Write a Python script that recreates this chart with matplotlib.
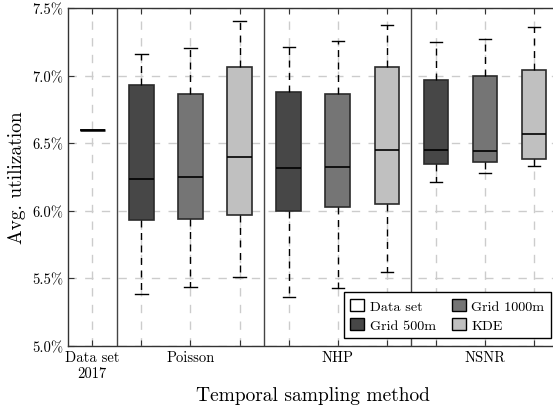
import matplotlib
matplotlib.use("Agg")
import matplotlib.pyplot as plt
from matplotlib.patches import Patch
from matplotlib.ticker import FuncFormatter

plt.rcParams['font.family'] = ['cmr10', 'DejaVu Serif']
plt.rcParams['mathtext.fontset'] = 'cm'
plt.rcParams['axes.formatter.use_mathtext'] = True

# Avg. utilization in percent
groups = ["Poisson", "NHP", "NSNR"]
series = ["Grid 500m", "Grid 1000m", "KDE"]
series_colors = ["#474747", "#757575", "#c0c0c0"]

dataset_value = 6.60

# (whislo, q1, median, q3, whishi) per group, per series
grid500 = [(5.386, 5.930, 6.233, 6.930, 7.161),
           (5.364, 5.996, 6.319, 6.880, 7.213),
           (6.216, 6.349, 6.448, 6.967, 7.253)]
grid1000 = [(5.436, 5.939, 6.248, 6.868, 7.206),
            (5.430, 6.030, 6.327, 6.865, 7.260),
            (6.278, 6.364, 6.443, 6.996, 7.273)]
kde = [(5.510, 5.969, 6.399, 7.068, 7.406),
       (5.544, 6.048, 6.453, 7.063, 7.379),
       (6.330, 6.384, 6.569, 7.041, 7.359)]

tick_labels = ["Data set\n2017", "", "Poisson", "", "", "NHP", "", "", "NSNR", ""]


def stats(t):
    lo, q1, med, q3, hi = t
    return dict(whislo=lo, q1=q1, med=med, q3=q3, whishi=hi, fliers=[])


fig = plt.figure(figsize=(5.53, 4.10), dpi=100)
ax = fig.add_axes([0.1226, 0.1544, 0.8875, 0.8229])

edge = "#2b2b2b"
whisk = dict(color="black", linestyle=(0, (5, 4)), linewidth=1.0)
cap = dict(color="black", linewidth=1.0)
med = dict(color="black", linewidth=1.2)

# data set line
ax.bxp([stats((dataset_value,) * 5)], positions=[0], widths=0.5,
       patch_artist=True, showfliers=False,
       boxprops=dict(facecolor="white", edgecolor="black", linewidth=1.2),
       whiskerprops=whisk, capprops=dict(linewidth=0),
       medianprops=dict(color="black", linewidth=1.8))

all_series = [grid500, grid1000, kde]
for gi in range(len(groups)):
    for si, ser in enumerate(all_series):
        pos = 1 + gi * 3 + si
        ax.bxp([stats(ser[gi])], positions=[pos], widths=0.5,
               patch_artist=True, showfliers=False,
               boxprops=dict(facecolor=series_colors[si], edgecolor=edge,
                             linewidth=1.2),
               whiskerprops=whisk, capprops=cap, medianprops=med)

for xs in [0.5, 3.5, 6.5]:
    ax.axvline(xs, color="#444444", linewidth=1.0, zorder=1)

ax.set_xlim(-0.5, 9.5)
ax.set_ylim(5.0, 7.5)
ax.set_yticks([5.0, 5.5, 6.0, 6.5, 7.0, 7.5])
ax.yaxis.set_major_formatter(FuncFormatter(lambda v, p: "%.1f%%" % v))
ax.set_xticks(range(10))
ax.set_xticklabels(tick_labels, fontsize=10.5)
ax.tick_params(axis="y", labelsize=10.5)
ax.tick_params(direction="in", top=True, right=True, length=4,
               color="#333333")

ax.grid(True, color="#cccccc", linestyle=(0, (6, 6)), linewidth=1.0)
ax.set_axisbelow(True)
for sp in ax.spines.values():
    sp.set_color("#333333")
    sp.set_linewidth(1.0)

ax.set_ylabel("Avg. utilization", fontsize=14)
ax.set_xlabel("Temporal sampling method", fontsize=14)

handles = [Patch(facecolor="white", edgecolor="black", label="Data set")]
for s, c in zip(series, series_colors):
    handles.append(Patch(facecolor=c, edgecolor="black", label=s))
leg = ax.legend(handles=handles, ncol=2, loc="lower right",
                bbox_to_anchor=(0.9845, 0.022), borderaxespad=0,
                fontsize=10.2, fancybox=False, edgecolor="black",
                framealpha=1, handlelength=1.0, handleheight=1.0,
                columnspacing=1.1, handletextpad=0.4, borderpad=0.45,
                labelspacing=0.35)
leg.get_frame().set_linewidth(1.0)

fig.savefig("out.png", dpi=100)
